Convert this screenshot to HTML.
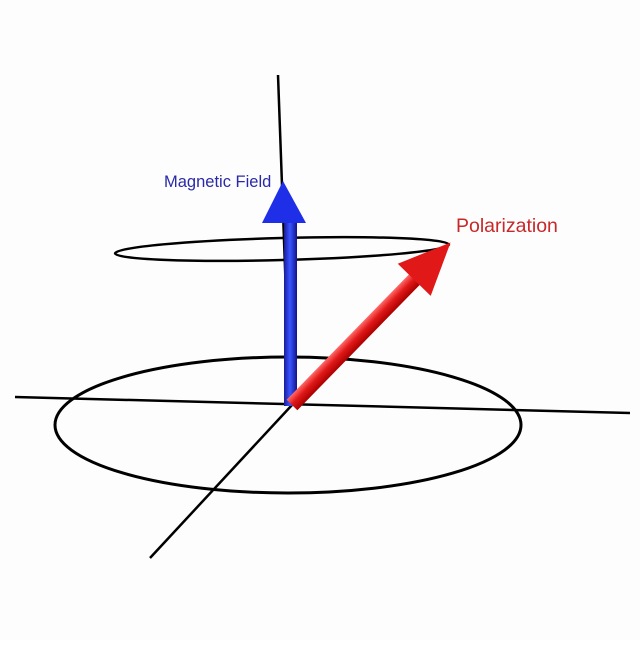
<!DOCTYPE html>
<html><head><style>body{margin:0;background:#fff}</style></head><body>
<svg width="640" height="640" viewBox="0 0 640 640" xmlns="http://www.w3.org/2000/svg">
<rect width="640" height="640" fill="#fdfdfd"/>
<defs>
<linearGradient id="b" x1="0" x2="1"><stop offset="0" stop-color="#1a1a9a"/><stop offset="0.45" stop-color="#3a55ff"/><stop offset="1" stop-color="#12128a"/></linearGradient>
<linearGradient id="r" x1="0" x2="0" y1="0" y2="1"><stop offset="0" stop-color="#ff6a6a"/><stop offset="0.45" stop-color="#e01818"/><stop offset="1" stop-color="#a00"/></linearGradient>
</defs>
<g fill="none" stroke="#000" stroke-width="2.5">
<line x1="278" y1="75" x2="290" y2="405"/>
<line x1="15" y1="397" x2="630" y2="413"/>
<line x1="150" y1="558" x2="292" y2="405"/>
<ellipse cx="288" cy="425" rx="233" ry="68" stroke-width="3"/>
<ellipse cx="282" cy="249" rx="167" ry="11" transform="rotate(-1.5 282 249)"/>
</g>
<rect x="284" y="222" width="13" height="184" fill="url(#b)"/>
<polygon points="283,181 262,223 306,223" fill="#1f2fe8"/>
<g transform="translate(292,405) rotate(-45.7)">
<rect x="0" y="-7.5" width="185" height="15" fill="url(#r)"/>
<polygon points="227,0 175,-23 175,23" fill="#e01818"/>
</g>
<text x="164" y="187" font-family="Liberation Sans, sans-serif" font-size="16.5" fill="#2a2aa8">Magnetic Field</text>
<text x="456" y="232" font-family="Liberation Sans, sans-serif" font-size="19.5" fill="#c8282a">Polarization</text>
</svg>
</body></html>
